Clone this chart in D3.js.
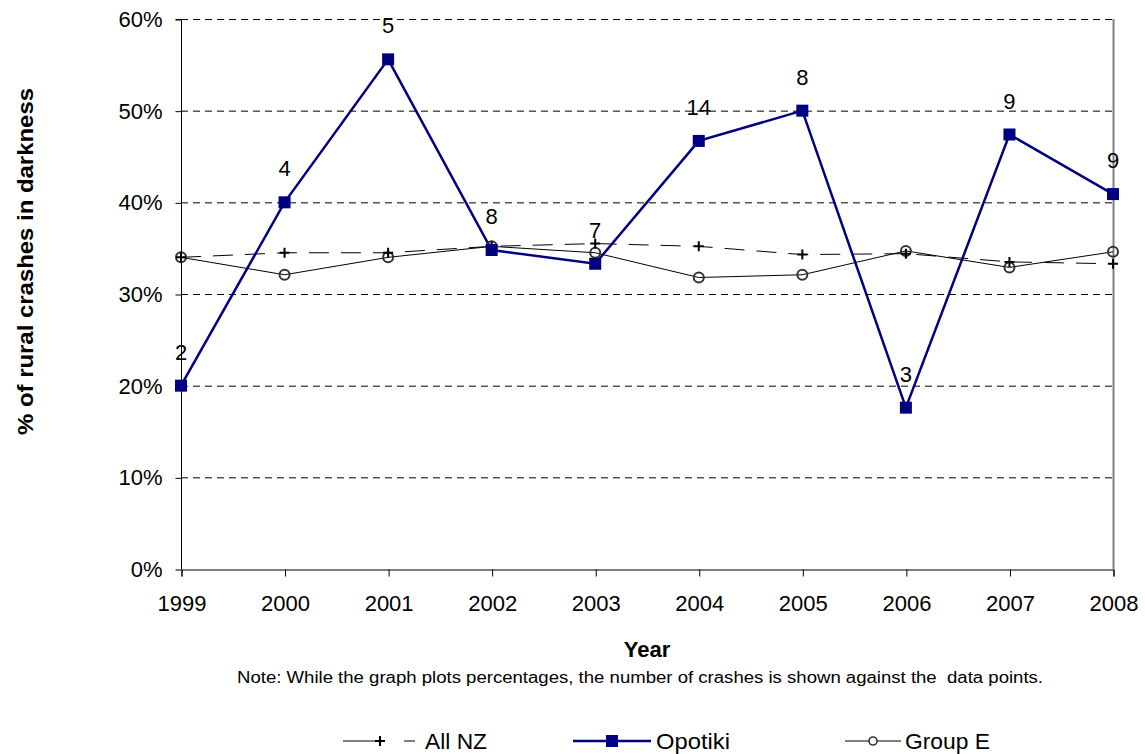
<!DOCTYPE html>
<html><head><meta charset="utf-8">
<script src="https://cdn.jsdelivr.net/npm/d3@7"></script>
<style>body{margin:0;background:#fff}svg{display:block;font-family:Arial,"Liberation Sans",sans-serif}</style>
</head><body>
<svg id="c" width="1145" height="754"></svg>
<script>
const years = [1999,2000,2001,2002,2003,2004,2005,2006,2007,2008];
const allNZ = [34.0,34.5,34.5,35.2,35.5,35.2,34.3,34.4,33.5,33.3];
const opotiki = [20.0,40.0,55.6,34.8,33.3,46.7,50.0,17.6,47.4,40.9];
const groupE = [34.0,32.1,34.0,35.2,34.5,31.8,32.1,34.7,32.9,34.6];
const counts = ["2","4","5","8","7","14","8","3","9","9"];
const yTicks = [0,10,20,30,40,50,60];

const svg = d3.select("#c");
const L=181,R=1113,T=19,B=569;
const x = d3.scaleLinear().domain([1999,2008]).range([L,R]);
const y = d3.scaleLinear().domain([0,60]).range([B,T]);
const FF = "Arial, Liberation Sans, sans-serif";

// gridlines
svg.append("g").selectAll("line").data(yTicks.filter(d=>d>0)).join("line")
  .attr("x1",L).attr("x2",R).attr("y1",d=>y(d)+0.5).attr("y2",d=>y(d)+0.5)
  .attr("stroke","#000").attr("stroke-dasharray","7,5").attr("stroke-width",1);
// right border
svg.append("line").attr("x1",R+0.5).attr("x2",R+0.5).attr("y1",T).attr("y2",B).attr("stroke","#808080").attr("stroke-width",2);

// axes
const yAxis = d3.axisLeft(y).tickValues(yTicks).tickFormat(d=>d+"%").tickSize(6).tickPadding(13);
const gy = svg.append("g").attr("transform",`translate(${L+0.5},0.5)`).call(yAxis);
const xAxis = d3.axisBottom(x).tickValues(years).tickFormat(d3.format("d")).tickSize(7).tickPadding(19);
const gx = svg.append("g").attr("transform",`translate(0.5,${B+0.5})`).call(xAxis);
[gy,gx].forEach(g=>{g.select(".domain").attr("stroke","#000");g.selectAll(".tick line").attr("stroke","#000");
  g.selectAll("text").attr("font-size",22).attr("fill","#000").attr("font-family",FF);});
gy.select(".domain").attr("d",`M-6,${T}H0V${B}`);

const line = d3.line().x((d,i)=>x(years[i])).y(d=>y(d));

// Group E
svg.append("path").datum(groupE).attr("d",line).attr("fill","none").attr("stroke","#000").attr("stroke-width",1);
// All NZ
svg.append("path").datum(allNZ).attr("d",line).attr("fill","none").attr("stroke","#000").attr("stroke-width",1).attr("stroke-dasharray","20,12");
// Opotiki
svg.append("path").datum(opotiki).attr("d",line).attr("fill","none").attr("stroke","#000080").attr("stroke-width",2.5);

// markers Group E
svg.append("g").selectAll("circle").data(groupE).join("circle")
  .attr("cx",(d,i)=>x(years[i])).attr("cy",d=>y(d)).attr("r",5)
  .attr("fill","none").attr("stroke","#333").attr("stroke-width",2);
// markers All NZ
svg.append("g").selectAll("path").data(allNZ).join("path")
  .attr("d",(d,i)=>{const cx=x(years[i]),cy=y(d);return `M${cx-5},${cy}H${cx+5}M${cx},${cy-5}V${cy+5}`;})
  .attr("stroke","#000").attr("stroke-width",2);
// markers Opotiki
svg.append("g").selectAll("rect").data(opotiki).join("rect")
  .attr("x",(d,i)=>x(years[i])-6).attr("y",d=>y(d)-6).attr("width",12).attr("height",12)
  .attr("fill","#000080");
// count labels
svg.append("g").selectAll("text").data(opotiki).join("text")
  .attr("x",(d,i)=>x(years[i])).attr("y",d=>y(d)-26).attr("text-anchor","middle")
  .attr("font-size",22).attr("fill","#000").text((d,i)=>counts[i]);

// titles
svg.append("text").attr("x",(L+R)/2).attr("y",657).attr("text-anchor","middle").attr("font-size",22).attr("font-weight","bold").text("Year");
svg.append("text").attr("transform",`translate(33,435) rotate(-90)`).attr("font-size",22).attr("font-weight","bold")
  .attr("textLength",347).attr("lengthAdjust","spacingAndGlyphs").text("% of rural crashes in darkness");
svg.append("text").attr("x",237).attr("y",683).attr("font-size",16).attr("textLength",806).attr("lengthAdjust","spacingAndGlyphs").attr("xml:space","preserve").text("Note: While the graph plots percentages, the number of crashes is shown against the  data points.");

// legend
const ly=741, lb=749;
const lg = svg.append("g");
lg.append("line").attr("x1",343).attr("x2",380).attr("y1",ly).attr("y2",ly).attr("stroke","#000");
lg.append("line").attr("x1",404).attr("x2",415).attr("y1",ly).attr("y2",ly).attr("stroke","#000");
lg.append("path").attr("d",`M375,${ly}H385M380,${ly-5}V${ly+5}`).attr("stroke","#000").attr("stroke-width",2);
lg.append("text").attr("x",425).attr("y",lb).attr("font-size",22).attr("textLength",62).attr("lengthAdjust","spacingAndGlyphs").text("All NZ");
lg.append("line").attr("x1",573).attr("x2",651).attr("y1",ly).attr("y2",ly).attr("stroke","#000080").attr("stroke-width",2.5);
lg.append("rect").attr("x",606).attr("y",ly-6).attr("width",12).attr("height",12).attr("fill","#000080");
lg.append("text").attr("x",656).attr("y",lb).attr("font-size",22).attr("textLength",74).attr("lengthAdjust","spacingAndGlyphs").text("Opotiki");
lg.append("line").attr("x1",845).attr("x2",901).attr("y1",ly).attr("y2",ly).attr("stroke","#000");
lg.append("circle").attr("cx",873).attr("cy",ly).attr("r",4).attr("fill","#fff").attr("stroke","#333").attr("stroke-width",1.6);
lg.append("text").attr("x",905).attr("y",lb).attr("font-size",22).attr("textLength",85).attr("lengthAdjust","spacingAndGlyphs").text("Group E");
</script>
</body></html>
